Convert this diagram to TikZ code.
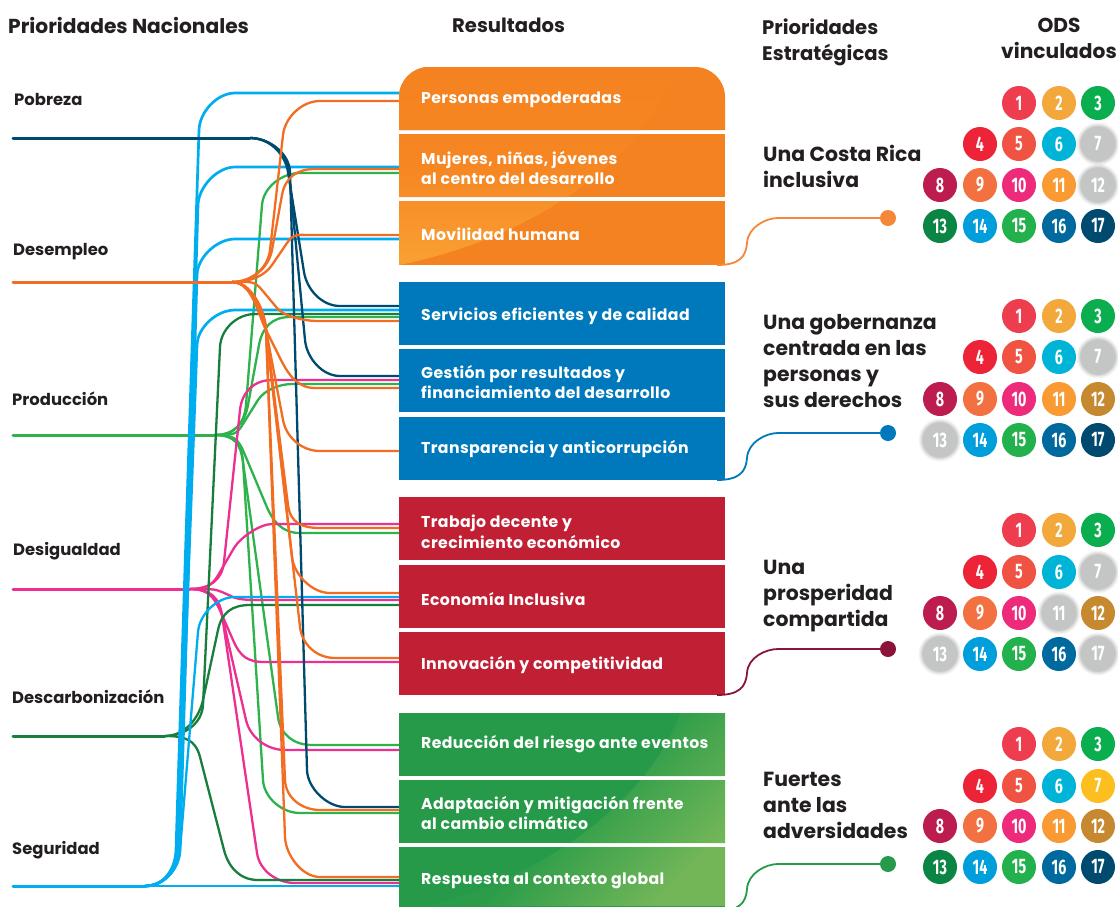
\documentclass[tikz,border=0pt]{standalone}
\usepackage{fontspec}
\setmainfont{Poppins}
\newfontfamily\labelfont{Poppins}[LetterSpace=2.5]
\newfontfamily\numfont{Fira Sans}
\usetikzlibrary{calc}
\definecolor{cnavy}{HTML}{004A70}
\definecolor{cblue}{HTML}{00AEEF}
\definecolor{corange}{HTML}{F26C22}
\definecolor{cgreen}{HTML}{2DB24C}
\definecolor{cpink}{HTML}{EC2F90}
\definecolor{cdgreen}{HTML}{177E3E}
\definecolor{ink}{HTML}{231F20}
\definecolor{boxorange}{HTML}{F58220}
\definecolor{boxorangeL}{HTML}{F9A033}
\definecolor{boxblue}{HTML}{0079BC}
\definecolor{boxred}{HTML}{C11F33}
\definecolor{boxgreen}{HTML}{269A48}
\definecolor{boxgreenL}{HTML}{72B658}
\definecolor{dotorange}{HTML}{F5873A}
\definecolor{dotwine}{HTML}{8B1538}
\tikzset{
  mainline/.style={line width=3pt,line cap=round},
  strand/.style={line width=2.3pt,line join=round},
  trunk/.style={line width=2.7pt,line join=round},
  resbox/.style={anchor=north west,minimum width=326pt,minimum height=63pt,inner sep=0pt,outer sep=0pt},
  boxlabel/.style={anchor=west,align=left,text=white,font=\labelfont\fontsize{15.7}{20.6}\selectfont\bfseries,inner sep=0pt},
  natlabel/.style={anchor=base west,text=ink,font=\fontsize{16.4}{18}\selectfont\bfseries,inner sep=0pt},
  header/.style={text=ink,font=\fontsize{20.2}{26}\selectfont\bfseries,inner sep=0pt},
  headerB/.style={text=ink,font=\fontsize{19.6}{26}\selectfont\bfseries,inner sep=0pt},
  strat/.style={anchor=west,align=left,text=ink,font=\fontsize{20.4}{26}\selectfont\bfseries,inner sep=0pt},
  joinline/.style={line width=1.8pt},
  joindot/.style={circle,minimum size=16pt,inner sep=0pt},
  sdg/.style={circle,minimum size=34pt,inner sep=0pt,text=white,font=\fontsize{21}{21}\numfont\bfseries},
  off/.style={fill=sdggray,text=white,
    preaction={draw=black,draw opacity=.04,line width=9pt},
    preaction={draw=black,draw opacity=.05,line width=6.5pt},
    preaction={draw=black,draw opacity=.06,line width=4pt},
    preaction={draw=black,draw opacity=.07,line width=2pt}},
  s1/.style={fill=sdgA},s2/.style={fill=sdgB},s3/.style={fill=sdgC},s4/.style={fill=sdgD},
  s5/.style={fill=sdgE},s6/.style={fill=sdgF},s7/.style={fill=sdgG},s8/.style={fill=sdgH},
  s9/.style={fill=sdgI},s10/.style={fill=sdgJ},s11/.style={fill=sdgK},s12/.style={fill=sdgL},
  s13/.style={fill=sdgM},s14/.style={fill=sdgN},s15/.style={fill=sdgO},s16/.style={fill=sdgP},s17/.style={fill=sdgQ},
}
\definecolor{sdggray}{HTML}{C4C6C5}
\definecolor{sdgA}{HTML}{EF3D50}\definecolor{sdgB}{HTML}{F2A83B}\definecolor{sdgC}{HTML}{0BAE4F}
\definecolor{sdgD}{HTML}{ED2337}\definecolor{sdgE}{HTML}{F15343}\definecolor{sdgF}{HTML}{00B4D8}
\definecolor{sdgG}{HTML}{FDBF1F}\definecolor{sdgH}{HTML}{BC1C4E}\definecolor{sdgI}{HTML}{F37040}
\definecolor{sdgJ}{HTML}{EE2A7B}\definecolor{sdgK}{HTML}{F99A33}\definecolor{sdgL}{HTML}{C6892F}
\definecolor{sdgM}{HTML}{0A8543}\definecolor{sdgN}{HTML}{009FDC}\definecolor{sdgO}{HTML}{22B14C}
\definecolor{sdgP}{HTML}{006A9E}\definecolor{sdgQ}{HTML}{004A70}
% colour, fork, A, B, corner x, box, target y; optional: curve pull at the corner
\newcommand\wire[8][18pt]{%
  \coordinate (wa) at (#4);\coordinate (wb) at (#5);\coordinate (wc) at (#6,#8);
  \draw[strand,#2] (#3) .. controls ($(#3)+(20,0)$) and ($(wa)!-#1!(wb)$) .. (wa) -- (wb)
    .. controls ($(wb)!-#1!(wa)$) and ($(wc)+(-#1,0)$) .. (wc) -- (#7.west |- wc);}
% right-hand join: box, dot, colour
\newcommand\joinwire[3]{%
  \draw[joinline,#3] ($(#1.south east)+(-8,0)$) .. controls ($(#1.south east)+(14,0)$) and ($(#1.south east)+(21,-8)$) .. ($(#1.south east)+(22,-22)$)
    .. controls ($(#1.south east)+(23,-38)$) and ($(#2)+(-122,0)$) .. ($(#2)+(-110,0)$) -- (#2);}
% one set of goals: prefix, four row positions
\newcommand\sdgset[5]{%
  \foreach \n/\cx/\cy in {1/1019/#2,2/1059/#2,3/1098/#2,4/980/#3,5/1019/#3,6/1059/#3,7/1098/#3,
    8/940/#4,9/980/#4,10/1019/#4,11/1059/#4,12/1098/#4,13/940/#5,14/980/#5,15/1019/#5,16/1059/#5,17/1098/#5}
    {\node[sdg,s\n] (#1-\n) at (\cx,\cy) {\scalebox{.68}[1]{\n}};}}
\begin{document}
\begin{tikzpicture}[x=1pt,y=-1pt]
\clip (0,0) rectangle (1118,906);
\fill[white] (0,0) rectangle (1118,906);

% boxes
\node[resbox] (b1) at (399,67) {};
\node[resbox] (b2) at (399,134) {};
\node[resbox,minimum height=64pt] (b3) at (399,201) {};
\node[resbox] (b4) at (399,282) {};
\node[resbox] (b5) at (399,349) {};
\node[resbox] (b6) at (399,417) {};
\node[resbox] (b7) at (399,497) {};
\node[resbox] (b8) at (399,565) {};
\node[resbox] (b9) at (399,632) {};
\node[resbox] (b10) at (399,713) {};
\node[resbox] (b11) at (399,780) {};
\node[resbox,minimum height=64pt] (b12) at (399,847) {};

% sources
\coordinate (s-pob) at (13,138);\coordinate (f-pob) at (250,138);
\coordinate (s-des) at (13,282);\coordinate (f-des) at (232,282);
\coordinate (s-pro) at (13,435);\coordinate (f-pro) at (215,435);
\coordinate (s-dgl) at (13,589);\coordinate (f-dgl) at (190,589);
\coordinate (s-dec) at (13,736);\coordinate (f-dec) at (165,736);
\coordinate (s-seg) at (13,886);\coordinate (f-seg) at (145,886);

% Produccion
\draw[mainline,cgreen] (s-pro) -- (f-pro);
\wire{cgreen}{f-pro}{246,405}{262,205}{300}{b2}{173}
\wire{cgreen}{f-pro}{248,405}{259,345}{290}{b4}{317}
\wire[12pt]{cgreen}{f-pro}{243,424}{258,400}{292}{b5}{384}
\wire{cgreen}{f-pro}{245,455}{266,505}{300}{b7}{533}
\wire{cgreen}{f-pro}{243,462}{278,717}{312}{b10}{745}
\wire{cgreen}{f-pro}{243,462}{263,780}{300}{b11}{813}
% Desigualdad
\draw[mainline,cpink] (s-dgl) -- (f-dgl);
\wire{cpink}{f-dgl}{224,562}{240,410}{272}{b5}{380}
\wire[12pt]{cpink}{f-dgl}{220,572}{234,548}{272}{b7}{524}
\wire[8pt]{cpink}{f-dgl}{222,592}{233,597}{262}{b8}{600}
\wire{cpink}{f-dgl}{222,615}{233,640}{265}{b9}{662}
\wire{cpink}{f-dgl}{222,615}{246,720}{285}{b10}{750}
\wire{cpink}{f-dgl}{222,615}{257,853}{295}{b12}{883}
% Descarbonizacion
\draw[mainline,cdgreen] (s-dec) -- (f-dec);
\wire{cdgreen}{f-dec}{203,705}{220,347}{255}{b4}{314}
\wire{cdgreen}{f-dec}{203,700}{218,630}{250}{b8}{605}
\wire{cdgreen}{f-dec}{200,757}{224,850}{258}{b12}{880}
% Seguridad
\draw[mainline,cblue] (s-seg) -- (f-seg);
\draw[strand,cblue] (f-seg) -- (b12.west |- f-seg);
\wire{cblue,trunk}{f-seg}{176,850}{199,130}{235}{b1}{93}
\wire{cblue,trunk}{f-seg}{178,850}{198,205}{235}{b2}{167}
\wire{cblue,trunk}{f-seg}{180,850}{197,275}{235}{b3}{239}
\wire{cblue,trunk}{f-seg}{178,850}{197,345}{235}{b4}{310}
\wire{cblue}{f-seg}{180,850}{198,632}{235}{b8}{597}
% Pobreza
\draw[mainline,cnavy] (s-pob) -- (f-pob);
\wire{cnavy}{f-pob}{288,172}{304,272}{340}{b4}{306}
\wire{cnavy}{f-pob}{289,172}{305,340}{340}{b5}{376}
\wire{cnavy}{f-pob}{290,172}{307,770}{345}{b11}{807}
% Desempleo
\draw[mainline,corange] (s-des) -- (f-des);
\wire{corange}{f-des}{270,250}{283,135}{320}{b1}{101}
\wire{corange}{f-des}{272,250}{282,195}{315}{b2}{169}
\wire[12pt]{corange}{f-des}{272,265}{287,243}{310}{b3}{235}
\wire[12pt]{corange}{f-des}{262,290}{277,308}{318}{b4}{321}
\wire{corange}{f-des}{266,330}{280,358}{315}{b5}{388}
\wire{corange}{f-des}{266,330}{283,420}{320}{b6}{451}
\wire{corange}{f-des}{266,330}{288,505}{320}{b7}{528}
\wire{corange}{f-des}{266,330}{292,557}{330}{b8}{593}
\wire{corange}{f-des}{266,330}{300,627}{335}{b9}{658}
\wire{corange}{f-des}{266,330}{285,780}{320}{b11}{810}
\wire{corange}{f-des}{266,330}{285,837}{320}{b12}{877}

% box fills over wire ends
\fill[boxorange] (b1.south west) {[rounded corners=30pt] -- (b1.north west) -- (b1.north east)} -- (b1.south east) -- cycle;
\foreach \b in {b2,b3} {\fill[boxorange] (\b.south west) rectangle (\b.north east);}
\foreach \b in {b4,b5,b6} {\fill[boxblue] (\b.south west) rectangle (\b.north east);}
\foreach \b in {b7,b8,b9} {\fill[boxred] (\b.south west) rectangle (\b.north east);}
\foreach \b in {b10,b11,b12} {\fill[boxgreen] (\b.south west) rectangle (\b.north east);}
\begin{scope}
  \clip (b1.south west) {[rounded corners=30pt] -- (b1.north west) -- (b1.north east)} -- (b1.south east) -- cycle
        (b2.south west) rectangle (b2.north east) (b3.south west) rectangle (b3.north east);
  \shade[top color=boxorange,bottom color=boxorangeL,middle color=boxorange!85!boxorangeL] (399,265) .. controls (500,245) and (630,185) .. (678,67) -- (399,67) -- cycle;
\end{scope}
\begin{scope}
  \clip (b10.south west) rectangle (b10.north east) (b11.south west) rectangle (b11.north east) (b12.south west) rectangle (b12.north east);
  \shade[top color=boxgreen,bottom color=boxgreenL,middle color=boxgreen!92!boxgreenL,shading angle=45] (425,906) .. controls (540,880) and (650,800) .. (680,713) -- (725,713) -- (725,906) -- cycle;
\end{scope}

% box labels
\node[boxlabel] (l1) at ($(b1.west)+(22,1.5)$) {Personas empoderadas};
\node[boxlabel] (l2) at ($(b2.west)+(22,2.5)$) {Mujeres, niñas, jóvenes\\al centro del desarrollo};
\node[boxlabel] (l3) at ($(b3.west)+(22,1.5)$) {Movilidad humana};
\node[boxlabel] (l4) at ($(b4.west)+(22,2.5)$) {Servicios eficientes y de calidad};
\node[boxlabel] (l5) at ($(b5.west)+(22,1.5)$) {Gestión por resultados y\\financiamiento del desarrollo};
\node[boxlabel] (l6) at ($(b6.west)+(22,0.5)$) {Transparencia y anticorrupción};
\node[boxlabel] (l7) at ($(b7.west)+(22,3)$) {Trabajo decente y\\crecimiento económico};
\node[boxlabel] (l8) at ($(b8.west)+(22,2.5)$) {Economía Inclusiva};
\node[boxlabel] (l9) at ($(b9.west)+(22,1.5)$) {Innovación y competitividad};
\node[boxlabel] (l10) at ($(b10.west)+(22,0)$) {Reducción del riesgo ante eventos};
\node[boxlabel] (l11) at ($(b11.west)+(22,1.5)$) {Adaptación y mitigación frente\\al cambio climático};
\node[boxlabel] (l12) at ($(b12.west)+(22,2)$) {Respuesta al contexto global};

% national labels
\node[natlabel] (n1) at (14,105) {Pobreza};
\node[natlabel] (n2) at (13,255) {Desempleo};
\node[natlabel] (n3) at (12,405) {Producción};
\node[natlabel] (n4) at (13,555) {Desigualdad};
\node[natlabel] (n5) at (12,703.5) {Descarbonización};
\node[natlabel] (n6) at (12,854) {Seguridad};

% headers
\node[header,anchor=west] (h1) at (8,25) {Prioridades Nacionales};
\node[headerB,anchor=west] (h2) at (452,25) {Resultados};
\node[headerB,anchor=west,align=left] (h3) at (762,42) {Prioridades\\Estratégicas};
\node[header,align=center] (h4) at (1059,38.5) {ODS\\vinculados};

% strategic priorities
\node[strat] (p1) at (763,166) {Una Costa Rica\\inclusiva};
\node[strat] (p2) at (763,361) {Una gobernanza\\centrada en las\\personas y\\sus derechos};
\node[strat] (p3) at (763,596) {Una\\prosperidad\\compartida};
\node[strat] (p4) at (763,805) {Fuertes\\ante las\\adversidades};

% joins
\node[joindot,fill=dotorange] (d1) at (888,218) {};
\node[joindot,fill=boxblue] (d2) at (888,433) {};
\node[joindot,fill=dotwine] (d3) at (888,649) {};
\node[joindot,fill=boxgreen] (d4) at (888,864) {};
\joinwire{b3}{d1}{dotorange}
\joinwire{b6}{d2}{boxblue}
\joinwire{b9}{d3}{dotwine}
\joinwire{b12}{d4}{boxgreen}

% goals
\begin{scope}[s7/.style={off},s12/.style={off}]
  \sdgset{g1}{103}{144}{185}{226}
\end{scope}
\begin{scope}[s7/.style={off},s13/.style={off}]
  \sdgset{g2}{316}{357}{399}{440}
\end{scope}
\begin{scope}[s7/.style={off},s11/.style={off},s13/.style={off},s17/.style={off}]
  \sdgset{g3}{530}{572}{613}{654}
\end{scope}
\sdgset{g4}{744}{786}{826}{867}
\end{tikzpicture}
\end{document}
